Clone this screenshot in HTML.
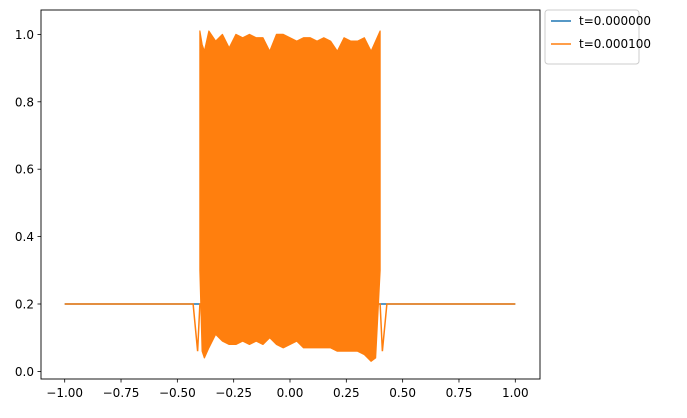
<!DOCTYPE html>
<html><head><meta charset="utf-8"><style>
body{margin:0;background:#fff;font-family:"Liberation Sans","DejaVu Sans",sans-serif}
svg text{font-family:"DejaVu Sans","Liberation Sans",sans-serif;font-size:12px;fill:#000}
</style></head><body>
<svg id="chart" width="687" height="413" xmlns="http://www.w3.org/2000/svg">
<rect x="41" y="10" width="499" height="369" fill="#fff" stroke="#000" stroke-width="0.9"/>
<g id="series"></g>
<g id="xticks"></g><g id="yticks"></g>
<g>
<rect x="545" y="10" width="94" height="54" rx="3" fill="#fff" stroke="#ccc"/>
<line x1="551" y1="21" x2="571" y2="21" stroke="#1f77b4" stroke-width="1.5"/>
<text x="579" y="25">t=0.000000</text>
<line x1="551" y1="44" x2="571" y2="44" stroke="#ff7f0e" stroke-width="1.5"/>
<text x="579" y="48">t=0.000100</text>
</g>
</svg>
<script>
const xTicks=[-1.0,-0.75,-0.5,-0.25,0.0,0.25,0.5,0.75,1.0];
const xTickLabels=["−1.00","−0.75","−0.50","−0.25","0.00","0.25","0.50","0.75","1.00"];
const yTicks=[0.0,0.2,0.4,0.6,0.8,1.0];
const yTickLabels=["0.0","0.2","0.4","0.6","0.8","1.0"];
const blueX=[-1,1];
const blueY=[0.2,0.2];
const bandX=[-0.4,-0.39,-0.38,-0.36,-0.33,-0.3,-0.27,-0.24,-0.21,-0.18,-0.15,-0.12,-0.09,-0.06,-0.03,0,0.03,0.06,0.09,0.12,0.15,0.18,0.21,0.24,0.27,0.3,0.33,0.36,0.38,0.4];
const bandUpper=[1.01,0.97,0.95,1.01,0.98,1.0,0.96,1.0,0.99,1.0,0.99,0.99,0.95,1.0,1.0,0.99,0.98,0.99,0.99,0.98,0.99,0.98,0.95,0.99,0.98,0.98,0.99,0.95,0.98,1.01];
const bandLower=[0.3,0.06,0.04,0.07,0.11,0.09,0.08,0.08,0.09,0.08,0.09,0.08,0.1,0.08,0.07,0.08,0.09,0.07,0.07,0.07,0.07,0.07,0.06,0.06,0.06,0.06,0.05,0.03,0.04,0.3];
const edgeX=[-1,-0.43,-0.41,-0.4,0.4,0.41,0.43,1];
const edgeY=[0.2,0.2,0.06,0.2,0.2,0.06,0.2,0.2];
const X=v=>290+v*225.3, Y=v=>371.4-v*337;
const NS="http://www.w3.org/2000/svg";
const mk=(p,t,a)=>{const e=document.createElementNS(NS,t);for(const k in a)e.setAttribute(k,a[k]);p.appendChild(e);return e;};
const S=document.getElementById('series');
let bp=blueX.map((x,i)=>X(x)+','+Y(blueY[i])).join(' ');
const bl=mk(S,'polyline',{points:bp,fill:'none',stroke:'#1f77b4','stroke-width':1.5});


let ep=edgeX.map((x,i)=>X(x)+','+Y(edgeY[i])).join(' ');
const el=mk(S,'polyline',{points:ep,fill:'none',stroke:'#ff7f0e','stroke-width':1.5});


let pts=bandX.map((x,i)=>X(x)+','+Y(bandUpper[i]));
for(let i=bandX.length-1;i>=0;i--)pts.push(X(bandX[i])+','+Y(bandLower[i]));
const band=mk(S,'polygon',{points:pts.join(' '),fill:'#ff7f0e',stroke:'#ff7f0e','stroke-width':1.2,'stroke-linejoin':'round'});


const XT=document.getElementById('xticks');
xTicks.forEach((v,i)=>{
 const l=mk(XT,'line',{x1:X(v),x2:X(v),y1:379,y2:382.5,stroke:'#000','stroke-width':0.8});
 
 
 const t=mk(XT,'text',{x:X(v),y:397,'text-anchor':'middle'});t.textContent=xTickLabels[i];
 
 
});
const YT=document.getElementById('yticks');
yTicks.forEach((v,i)=>{
 const l=mk(YT,'line',{x1:37.5,x2:41,y1:Y(v),y2:Y(v),stroke:'#000','stroke-width':0.8});
 
 
 const t=mk(YT,'text',{x:34,y:Y(v)+4.5,'text-anchor':'end'});t.textContent=yTickLabels[i];
 
 
});
</script>
</body></html>
